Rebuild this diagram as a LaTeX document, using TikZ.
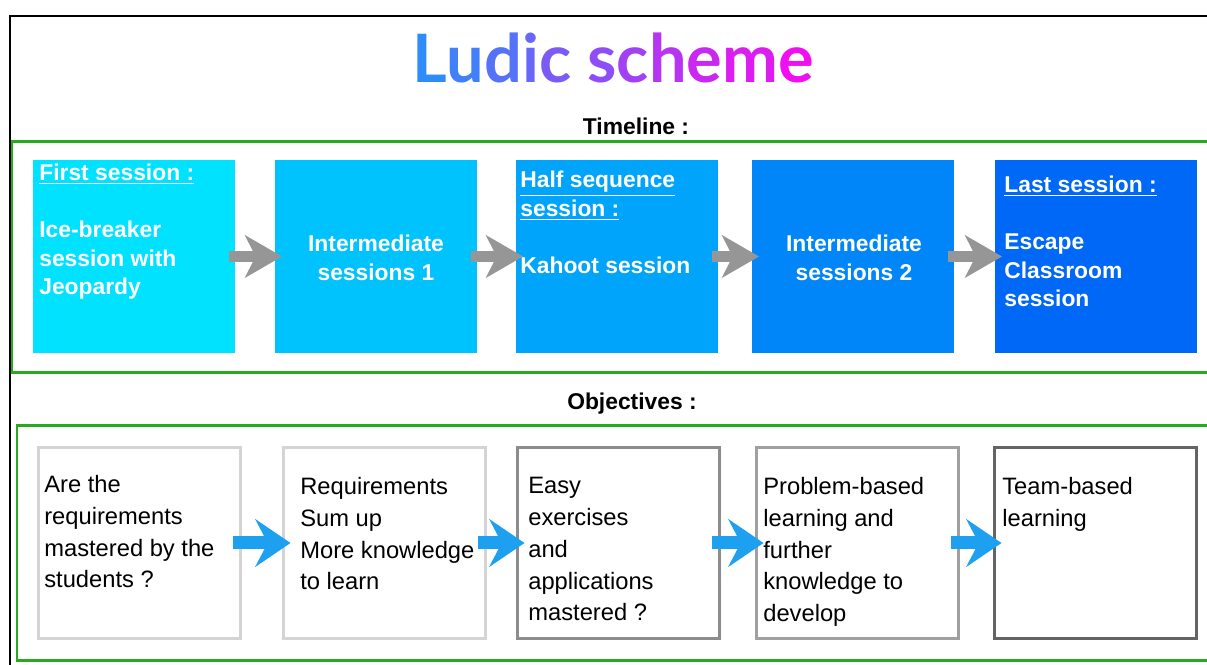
\documentclass[tikz,border=0pt]{standalone}
\usepackage{fontspec}
\setmainfont{Liberation Sans}
\newfontfamily\titlefont{Lato}
\usepackage{xcolor}
\usetikzlibrary{positioning, arrows.meta}

\definecolor{titleA}{RGB}{45,140,250}
\definecolor{titleB}{RGB}{240,15,240}
\definecolor{frame}{RGB}{40,170,30}
\definecolor{sessA}{RGB}{0,226,255}
\definecolor{sessB}{RGB}{0,194,252}
\definecolor{sessC}{RGB}{0,164,250}
\definecolor{sessD}{RGB}{0,134,248}
\definecolor{sessE}{RGB}{0,104,246}
\definecolor{arrgray}{RGB}{150,150,150}
\definecolor{arrblue}{RGB}{30,160,240}

\newcommand\gradchar[2]{\textcolor{titleB!#1!titleA}{#2}}

\begin{document}
\begin{tikzpicture}[
    x=0.02cm, y=-0.02cm,
    sessbox/.style={rectangle, minimum width=4.04cm, minimum height=3.86cm, inner sep=0pt, outer sep=0pt, anchor=north west},
    sesstext/.style={text=white, font=\fontsize{13}{16.2}\selectfont\bfseries, inner sep=0pt},
    objbox/.style={rectangle, draw, line width=2pt, fill=white, minimum width=4.04cm, minimum height=3.82cm, inner sep=0pt, outer sep=0pt, anchor=north west},
    objtext/.style={font=\fontsize{13.5}{18.1}\selectfont, align=left, inner sep=0pt, anchor=north west},
    heading/.style={font=\fontsize{13}{15}\selectfont\bfseries},
    greenframe/.style={draw=frame, line width=1.7pt},
    grayarrow/.style={arrgray, line width=6.4pt, -{Stealth[length=21pt, width=24pt, inset=6pt]}, shorten <=-3.4pt, shorten >=-4pt},
    bluearrow/.style={arrblue, line width=7.4pt, -{Stealth[length=20pt, width=27pt, inset=7pt]}, shorten <=-4.5pt, shorten >=-4pt}
]
    \useasboundingbox (0,0) rectangle (1207,664);
    \clip (0,0) rectangle (1207,664);

    % Outer frame and title
    \draw[line width=1.2pt] (10,16) rectangle (1230,690);
    \node (title) at (613,58) {\titlefont\bfseries\fontsize{38}{40}\selectfont
        \gradchar{0}{L}\gradchar{10}{u}\gradchar{20}{d}\gradchar{30}{i}\gradchar{40}{c}
        \gradchar{50}{s}\gradchar{60}{c}\gradchar{70}{h}\gradchar{80}{e}\gradchar{90}{m}\gradchar{100}{e}};

    % Timeline
    \node[heading] (timeline) at (636,126) {Timeline :};
    \draw[greenframe] (12,141) rectangle (1230,372);

    \node[sessbox, fill=sessA] (sess1) at (33,160) {};
    \node[sessbox, fill=sessB] (sess2) at (275,160) {};
    \node[sessbox, fill=sessC] (sess3) at (516,160) {};
    \node[sessbox, fill=sessD] (sess4) at (752,160) {};
    \node[sessbox, fill=sessE] (sess5) at (995,160) {};

    \node[sesstext, align=left, anchor=north west] (sess1txt) at (39,164) {\underline{First session :}\\[16.2pt]Ice-breaker\\session with\\Jeopardy};
    \node[sesstext, align=center] (sess2txt) at (376,258) {Intermediate\\sessions 1};
    \node[sesstext, align=left, anchor=north west] (sess3txt) at (520,171) {\underline{Half sequence}\\\underline{session :}\\[16.2pt]Kahoot session};
    \node[sesstext, align=center] (sess4txt) at (854,258) {Intermediate\\sessions 2};
    \node[sesstext, align=left, anchor=north west] (sess5txt) at (1004,176) {\underline{Last session :}\\[16.2pt]Escape\\Classroom\\session};

    % Objectives
    \node[heading] (objectives) at (632,404) {Objectives :};
    \draw[greenframe] (17,425) rectangle (1230,660);

    \node[objbox, draw={rgb,255:red,212;green,212;blue,212}] (obj1) at (38.5,447.5) {};
    \node[objbox, draw={rgb,255:red,212;green,212;blue,212}] (obj2) at (283.5,447.5) {};
    \node[objbox, draw={rgb,255:red,140;green,140;blue,140}] (obj3) at (517.5,447.5) {};
    \node[objbox, draw={rgb,255:red,160;green,160;blue,160}] (obj4) at (756.5,447.5) {};
    \node[objbox, draw={rgb,255:red,100;green,100;blue,100}] (obj5) at (994.5,447.5) {};

    \node[objtext] (obj1txt) at (44,475) {Are the\\requirements\\mastered by the\\students ?};
    \node[objtext] (obj2txt) at (300,477) {Requirements\\Sum up\\More knowledge\\to learn};
    \node[objtext] (obj3txt) at (528,477) {Easy\\exercises\\and\\applications\\mastered ?};
    \node[objtext] (obj4txt) at (763,477) {Problem-based\\learning and\\further\\knowledge to\\develop};
    \node[objtext] (obj5txt) at (1002,477) {Team-based\\learning};

    % Arrows between steps
    \foreach \a/\b in {1/2, 2/3, 3/4, 4/5} {
        \draw[grayarrow] (sess\a.east) -- (sess\b.west);
        \draw[bluearrow] (obj\a.east) -- (obj\b.west);
    }
\end{tikzpicture}
\end{document}
